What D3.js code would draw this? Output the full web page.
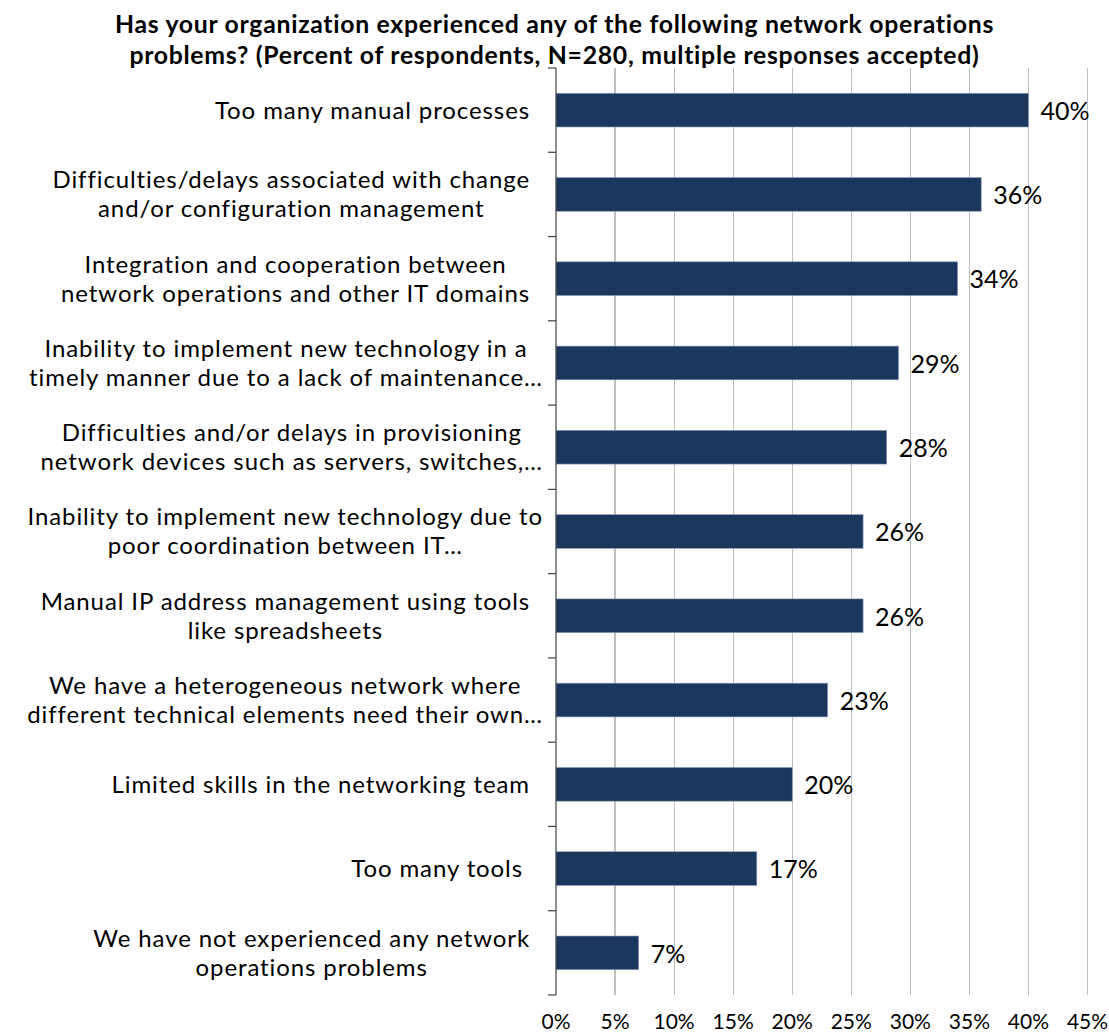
<!DOCTYPE html>
<html>
<head>
<meta charset="utf-8">
<script src="https://cdn.jsdelivr.net/npm/d3@7"></script>
<style>
  html, body { margin: 0; padding: 0; background: #fff; }
  svg { display: block; }
  text { font-family: Lato, "Open Sans", sans-serif; fill: #000; }
</style>
</head>
<body>
<svg id="chart" width="1109" height="1034"></svg>
<script>
const titleLines = [
  "Has your organization experienced any of the following network operations",
  "problems? (Percent of respondents, N=280, multiple responses accepted)"
];
const categories = [
  "Too many manual processes",
  "Difficulties/delays associated with change\nand/or configuration management",
  "Integration and cooperation between\nnetwork operations and other IT domains",
  "Inability to implement new technology in a\ntimely manner due to a lack of maintenance…",
  "Difficulties and/or delays in provisioning\nnetwork devices such as servers, switches,…",
  "Inability to implement new technology due to\npoor coordination between IT…",
  "Manual IP address management using tools\nlike spreadsheets",
  "We have a heterogeneous network where\ndifferent technical elements need their own…",
  "Limited skills in the networking team",
  "Too many tools ",
  "We have not experienced any network\noperations problems"
];
const values = [40, 36, 34, 29, 28, 26, 26, 23, 20, 17, 7];
const xTicks = [0, 5, 10, 15, 20, 25, 30, 35, 40, 45];

const svg = d3.select("#chart");
const margin = { left: 556, right: 1087.5, top: 68, bottom: 995 };

const x = d3.scaleLinear().domain([0, 45]).range([margin.left, margin.right]);
const y = d3.scaleBand().domain(d3.range(categories.length))
  .range([margin.top, margin.bottom]).paddingInner(0.6).paddingOuter(0.3);
const yBand = d3.scaleBand().domain(d3.range(categories.length))
  .range([margin.top, margin.bottom]);

// Title
svg.append("g").selectAll("text").data(titleLines).join("text")
  .attr("x", 554.5)
  .attr("y", (d, i) => 33 + i * 30.5)
  .attr("text-anchor", "middle")
  .style("font-weight", "bold")
  .style("font-size", "24.8px")
  .style("letter-spacing", "0.7px")
  .text(d => d);

// Gridlines
svg.append("g").selectAll("line").data(xTicks.slice(1)).join("line")
  .attr("x1", d => x(d)).attr("x2", d => x(d))
  .attr("y1", margin.top).attr("y2", margin.bottom)
  .attr("stroke", "#bfbfbf").attr("stroke-width", 1.2)
  .attr("shape-rendering", "crispEdges");

// Bars
svg.append("g").selectAll("rect").data(values).join("rect")
  .attr("x", x(0))
  .attr("y", (d, i) => y(i))
  .attr("width", d => x(d) - x(0))
  .attr("height", y.bandwidth())
  .attr("fill", "#1b375e")
  .attr("stroke", "#8a9cb8")
  .attr("stroke-width", 0.6);

// Value labels
svg.append("g").selectAll("text").data(values).join("text")
  .attr("x", d => x(d) + 12)
  .attr("y", (d, i) => y(i) + y.bandwidth() / 2 + 1)
  .attr("dy", "0.35em")
  .style("font-size", "25px")
  .text(d => d + "%");

// Left axis with ticks at band boundaries
const axisG = svg.append("g");
axisG.append("line")
  .attr("x1", x(0)).attr("x2", x(0))
  .attr("y1", margin.top).attr("y2", margin.bottom)
  .attr("stroke", "#404040").attr("stroke-width", 1.2);
const boundaries = d3.range(categories.length + 1).map(i =>
  i < categories.length ? yBand(i) : margin.bottom);
axisG.selectAll("line.tick").data(boundaries).join("line")
  .attr("class", "tick")
  .attr("x1", x(0) - 8).attr("x2", x(0))
  .attr("y1", d => d).attr("y2", d => d)
  .attr("stroke", "#404040").attr("stroke-width", 1.2);

// Category labels: centered lines, block right-aligned
const labelRight = 530;
const ellipsisRight = 543;
const lineGap = 29;
const catG = svg.append("g");
categories.forEach((c, i) => {
  const lines = c.split("\n");
  const cy = yBand(i) + yBand.bandwidth() / 2;
  const g = catG.append("g");
  const texts = g.selectAll("text").data(lines).join("text")
    .attr("text-anchor", "middle")
    .attr("y", (d, j) => cy + (j - (lines.length - 1) / 2) * lineGap)
    .attr("dy", "0.35em")
    .style("font-size", "24px")
    .style("letter-spacing", "0.9px")
    .style("white-space", "pre")
    .text(d => d);
  let maxW = 0;
  texts.each(function () { maxW = Math.max(maxW, this.getComputedTextLength()); });
  const hasEll = lines.some(l => l.endsWith("…"));
  const right = hasEll ? ellipsisRight : labelRight;
  texts.attr("x", right - maxW / 2);
});

// X tick labels
svg.append("g").selectAll("text").data(xTicks).join("text")
  .attr("x", d => x(d))
  .attr("y", 1022)
  .attr("dy", "0.35em")
  .attr("text-anchor", "middle")
  .style("font-size", "21px")
  .text(d => d + "%");
</script>
</body>
</html>
